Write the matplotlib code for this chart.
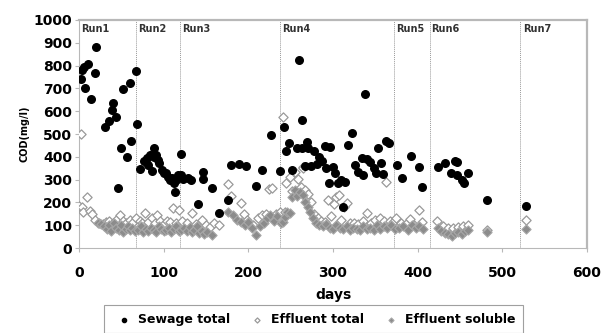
import matplotlib
matplotlib.use("Agg")
import matplotlib.pyplot as plt

# Sewage total COD (black dots)
sewage_days = [2, 3, 6, 7, 11, 14, 19, 20, 31, 35, 39, 40, 44, 46, 50, 52, 57, 60, 62, 67, 69,
               72, 77, 80, 82, 84, 86, 88, 89, 91, 93, 95, 98, 100, 103, 105, 108, 110, 112, 113, 115, 117,
               120, 121, 123, 129, 132, 140, 146, 147, 157, 165, 176, 180, 189, 197, 209, 216, 227,
               237, 242, 244, 248, 251, 257, 260, 263, 263, 267, 269, 271, 274, 277, 281, 283, 287, 290,
               292, 295, 297, 300, 302, 306, 310, 312, 314, 318, 323, 326, 330, 334, 336, 338, 340, 344,
               348, 351, 353, 357, 359, 363, 366,
               375, 381, 392, 401, 405,
               424, 432, 439, 444, 446, 446, 452, 455, 460, 482,
               528]
sewage_cod = [743, 781, 795, 703, 805, 652, 766, 883, 532, 558, 605, 635, 576, 262, 440, 696, 398, 725, 468, 776, 544,
              345, 380, 393, 364, 408, 339, 438, 400, 410, 386, 375, 342, 330, 328, 310, 300, 307, 285, 247, 300, 320,
              320, 412, 301, 307, 298, 192, 335, 301, 262, 155, 210, 364, 368, 361, 273, 342, 495,
              339, 529, 427, 462, 342, 437, 825, 561, 440, 360, 466, 437, 360, 425, 368, 401, 380, 447,
              349, 284, 444, 357, 327, 287, 300, 181, 291, 452, 503, 364, 335, 393, 320, 675, 390, 379,
              350, 327, 440, 371, 324, 471, 459,
              364, 306, 404, 355, 269,
              355, 374, 330, 382, 379, 320, 298, 284, 330, 210,
              184]

# Effluent total COD (open diamonds)
eff_days = [0, 2, 4, 5, 10, 13, 15, 19, 24, 28, 32, 36, 40, 44, 48, 52, 56, 60, 64, 67,
            72, 75, 78, 82, 86, 90, 92, 96, 100, 104, 108, 111, 115, 118,
            122, 127, 133, 138, 145, 150, 155, 160, 165, 176, 180, 191, 195, 198, 206, 211, 216, 221,
            224, 228, 233, 237,
            241, 243, 245, 249, 252, 255, 259, 262, 264, 265, 267, 271, 274, 278, 282, 286, 290, 294,
            298, 301, 304, 307, 310, 313, 316, 320, 325, 330, 335, 340, 345, 350, 355, 360, 363, 367, 371,
            374, 380, 386, 391, 396, 401, 405,
            423, 430, 436, 442, 448, 454, 460, 482,
            528]
eff_total = [184, 500, 181, 160, 225, 162, 150, 123, 108, 105, 115, 120, 110, 125, 145, 120, 110, 125, 115, 130,
             120, 110, 155, 115, 130, 110, 145, 120, 105, 120, 115, 174, 110, 167,
             120, 110, 152, 105, 123, 100, 94, 110, 100, 281, 228, 196, 150, 123, 101, 130, 145, 150,
             259, 262, 150, 160,
             576, 160, 284, 313, 250, 335, 301, 269, 357, 350, 254, 237, 200, 150, 130, 120, 115, 210,
             140, 193, 225, 232, 125, 180, 199, 110, 110, 105, 120, 152, 110, 125, 130, 120, 291, 120, 115,
             130, 110, 105, 126, 100, 167, 115,
             120, 95, 90, 88, 92, 95, 100, 78,
             123]

# Effluent soluble COD (grey diamonds)
sol_days = [22, 26, 30, 33, 36, 38, 41, 44, 47, 50, 52, 55, 58, 60, 63, 66,
            70, 73, 76, 79, 82, 85, 88, 91, 94, 97, 100, 103, 106, 109, 112, 115, 118,
            121, 124, 127, 131, 133, 136, 139, 142, 145, 148, 151, 157, 176, 182, 187, 191, 196, 200,
            204, 209, 214, 218, 222, 226, 230, 234,
            238, 241, 243, 246, 249, 252, 255, 258, 261, 265, 267, 270, 273, 276, 280, 284, 288, 292,
            296, 300, 304, 308, 312, 316, 320, 324, 328, 332, 336, 340, 344, 348, 352, 356, 360, 364, 368,
            373, 378, 383, 388, 393, 398, 402, 406,
            424, 428, 432, 436, 440, 444, 448, 452, 456, 460, 482,
            528]
sol_cod = [110, 105, 95, 85, 100, 75, 110, 90, 80, 100, 70, 85, 95, 80, 90, 75,
           80, 95, 70, 85, 75, 90, 80, 70, 95, 85, 75, 80, 90, 70, 85, 95, 75,
           80, 90, 75, 94, 70, 80, 95, 65, 75, 60, 70, 57, 160, 145, 125, 115, 100, 115,
           86, 57, 95, 111, 130, 145, 120, 140,
           110, 115, 135, 160, 152, 225, 254, 230, 245, 232, 200, 180, 160, 130, 110, 100, 95, 105,
           90, 85, 100, 90, 85, 95, 80, 90, 85, 80, 95, 85, 90, 80, 100, 85, 95, 90, 100,
           85, 90, 95, 80, 100, 90, 95, 85,
           90, 75, 65, 60, 55, 65, 70, 62, 75, 80, 70,
           85]

run_starts = [67, 119, 237, 372, 414, 521]
run_labels = ["Run1", "Run2", "Run3", "Run4", "Run5", "Run6", "Run7"]
run_label_x = [3, 70, 122, 240, 374, 416, 524]

frame_grey = "#b8b8b8"

fig = plt.figure(figsize=(6.03, 3.33), dpi=100)
ax = fig.add_axes([0.131, 0.255, 0.8425, 0.685])

ax.scatter(eff_days, eff_total, marker="D", s=22, facecolor="white",
           edgecolor="#9a9a9a", linewidth=0.9, label="Effluent total", zorder=3)
ax.scatter(sol_days, sol_cod, marker="D", s=22, facecolor="#8c8c8c",
           edgecolor="#a8a8a8", linewidth=0.8, label="Effluent soluble", zorder=4)
ax.scatter(sewage_days, sewage_cod, marker="o", s=30, color="black",
           label="Sewage total", zorder=5)

for d in run_starts:
    ax.axvline(d, color="#999999", linestyle=(0, (1, 1)), linewidth=0.7, zorder=1)
for x, lab in zip(run_label_x, run_labels):
    ax.text(x, 982, lab, fontsize=7, fontweight="bold", color="#333333",
            ha="left", va="top")

ax.set_xlim(0, 600)
ax.set_ylim(0, 1000)
ax.set_xticks(range(0, 601, 100))
ax.set_yticks(range(0, 1001, 100))
for lab in ax.get_xticklabels() + ax.get_yticklabels():
    lab.set_fontweight("bold")
    lab.set_fontsize(10)
ax.tick_params(axis="both", direction="out", length=3, color=frame_grey, pad=2)
ax.tick_params(axis="x", pad=10)

for side in ["left", "bottom"]:
    ax.spines[side].set_color(frame_grey)
    ax.spines[side].set_linewidth(0.8)
for side in ["top", "right"]:
    ax.spines[side].set_color(frame_grey)
    ax.spines[side].set_linewidth(1.6)

ax.set_xlabel("days", fontsize=10, fontweight="bold", labelpad=6)
ax.set_ylabel("COD(mg/l)", fontsize=7, fontweight="bold", labelpad=3)

# legend in the order sewage, effluent total, effluent soluble
handles, labels = ax.get_legend_handles_labels()
order = [2, 0, 1]
leg = fig.legend([handles[i] for i in order], [labels[i] for i in order],
                 loc="lower center", bbox_to_anchor=(0.52, -0.02), ncol=3,
                 fancybox=False, edgecolor="#888888", markerscale=0.55,
                 handletextpad=0.1, columnspacing=1.2, borderpad=0.6,
                 prop={"weight": "bold", "size": 9})
leg.get_frame().set_linewidth(0.8)

fig.savefig("out.png", dpi=100)
